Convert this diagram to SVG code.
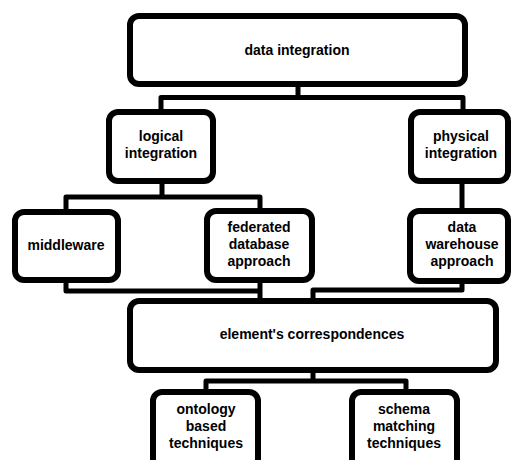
<svg xmlns="http://www.w3.org/2000/svg" width="513" height="460" viewBox="0 0 513 460">
<style>
.box{fill:#fff;stroke:#000;stroke-width:6}
.lbl{font-family:"Liberation Sans",Arial,sans-serif;font-weight:bold;font-size:14px;fill:#000;text-anchor:middle}
.con{fill:none;stroke:#000;stroke-width:5;stroke-linejoin:round;stroke-linecap:butt}
</style>
<rect width="513" height="460" fill="#fff"/>
<g id="connectors">
<path class="con" d="M298 86 V97.5"/>
<path class="con" d="M161 110 V97.5 H463 V110"/>
<path class="con" d="M162 183 V197"/>
<path class="con" d="M66 210 V197 H260 V209"/>
<path class="con" d="M462 183 V209"/>
<path class="con" d="M66 282 V291 H260"/>
<path class="con" d="M260 282 V299"/>
<path class="con" d="M462 283 V290 H313 V299"/>
<path class="con" d="M313 372 V381"/>
<path class="con" d="M206 390 V381 H406 V390"/>
</g>
<g id="data-integration">
<rect class="box" x="130" y="16" width="335" height="68" rx="9"/>
<text class="lbl" x="297" y="55">data integration</text>
</g>
<g id="logical-integration">
<rect class="box" x="109" y="112" width="104" height="69" rx="9"/>
<text class="lbl" x="161" y="141">logical</text>
<text class="lbl" x="161" y="158">integration</text>
</g>
<g id="physical-integration">
<rect class="box" x="411" y="112" width="97" height="69" rx="9"/>
<text class="lbl" x="461" y="141">physical</text>
<text class="lbl" x="461" y="158">integration</text>
</g>
<g id="middleware">
<rect class="box" x="15" y="212" width="103" height="68" rx="9"/>
<text class="lbl" x="66" y="250">middleware</text>
</g>
<g id="federated-database-approach">
<rect class="box" x="207" y="211" width="105" height="69" rx="9"/>
<text class="lbl" x="259" y="232">federated</text>
<text class="lbl" x="259" y="249">database</text>
<text class="lbl" x="259" y="266">approach</text>
</g>
<g id="data-warehouse-approach">
<rect class="box" x="410" y="211" width="98" height="70" rx="9"/>
<text class="lbl" x="462" y="232">data</text>
<text class="lbl" x="462" y="249">warehouse</text>
<text class="lbl" x="462" y="266">approach</text>
</g>
<g id="elements-correspondences">
<rect class="box" x="130" y="301" width="366" height="69" rx="9"/>
<text class="lbl" x="312" y="339">element's correspondences</text>
</g>
<g id="ontology-based-techniques">
<rect class="box" x="153" y="392" width="105" height="76" rx="9"/>
<text class="lbl" x="206" y="414">ontology</text>
<text class="lbl" x="206" y="431">based</text>
<text class="lbl" x="206" y="448">techniques</text>
</g>
<g id="schema-matching-techniques">
<rect class="box" x="352" y="392" width="105" height="76" rx="9"/>
<text class="lbl" x="404" y="414">schema</text>
<text class="lbl" x="404" y="431">matching</text>
<text class="lbl" x="404" y="448">techniques</text>
</g>
</svg>
